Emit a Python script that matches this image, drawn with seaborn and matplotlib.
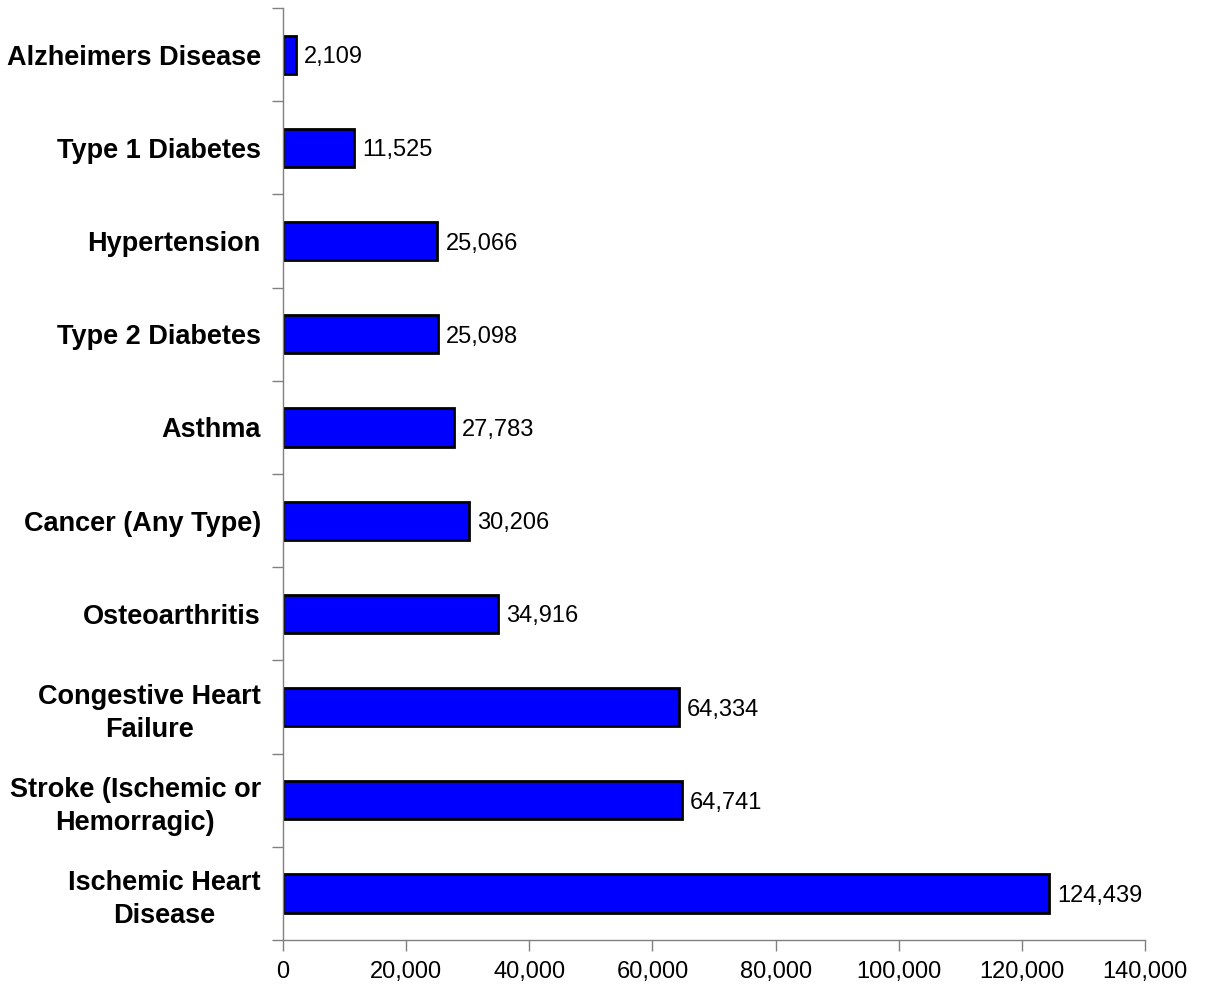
"""
Horizontal bar chart of condition counts, recreated with seaborn.
"""
import seaborn as sns
import matplotlib.pyplot as plt
import matplotlib.ticker as mticker
import pandas as pd
import numpy as np

sns.set_theme(style='white')
plt.rcParams['font.family'] = ['Liberation Sans', 'DejaVu Sans']
plt.rcParams['text.color'] = 'black'
plt.rcParams['xtick.color'] = 'black'
plt.rcParams['ytick.color'] = 'black'

# Data
conditions = ['Alzheimers Disease', 'Type 1 Diabetes', 'Hypertension',
              'Type 2 Diabetes', 'Asthma', 'Cancer (Any Type)', 'Osteoarthritis',
              'Congestive Heart\nFailure', 'Stroke (Ischemic or\nHemorragic)',
              'Ischemic Heart\nDisease']
counts = [2109, 11525, 25066, 25098, 27783, 30206, 34916, 64334, 64741, 124439]
x_ticks = [0, 20000, 40000, 60000, 80000, 100000, 120000, 140000]

df = pd.DataFrame({'Condition': conditions, 'Count': counts})

fig = plt.figure(figsize=(12.07, 9.89), dpi=100)
ax = fig.add_axes([0.2345, 0.0495, 0.9487 - 0.2345, 0.9919 - 0.0495])

sns.barplot(data=df, x='Count', y='Condition', orient='h', color='#0000FF',
            saturation=1, width=0.41, edgecolor='black', linewidth=2, ax=ax)

# Value labels
for i, v in enumerate(counts):
    ax.text(v + 1300, i, f'{v:,}', va='center_baseline', ha='left',
            fontsize=17, color='black')

ax.set_xlim(0, 140000)
ax.set_ylim(len(conditions) - 0.5, -0.5)
ax.set_xticks(x_ticks)
ax.xaxis.set_major_formatter(mticker.FuncFormatter(lambda v, p: f'{int(v):,}'))
ax.set_xlabel('')
ax.set_ylabel('')

# Category labels bold, tick marks at boundaries
ax.tick_params(axis='y', which='major', length=0, pad=16, labelsize=19.5)
for lbl in ax.get_yticklabels():
    lbl.set_fontweight('bold')
    lbl.set_ha('right')
    lbl.set_multialignment('center')
    lbl.set_linespacing(1.34)
    lbl.set_color('black')
ax.set_yticks(np.arange(-0.5, len(conditions)), minor=True)
ax.tick_params(axis='y', which='minor', length=8, width=1, color='#808080', left=True)
ax.tick_params(axis='x', which='major', length=8, width=1, color='#808080',
               bottom=True, labelsize=17, pad=7)

for side in ['top', 'right']:
    ax.spines[side].set_visible(False)
for side in ['left', 'bottom']:
    ax.spines[side].set_color('#808080')
    ax.spines[side].set_linewidth(1)

fig.savefig('out.png', dpi=100)
